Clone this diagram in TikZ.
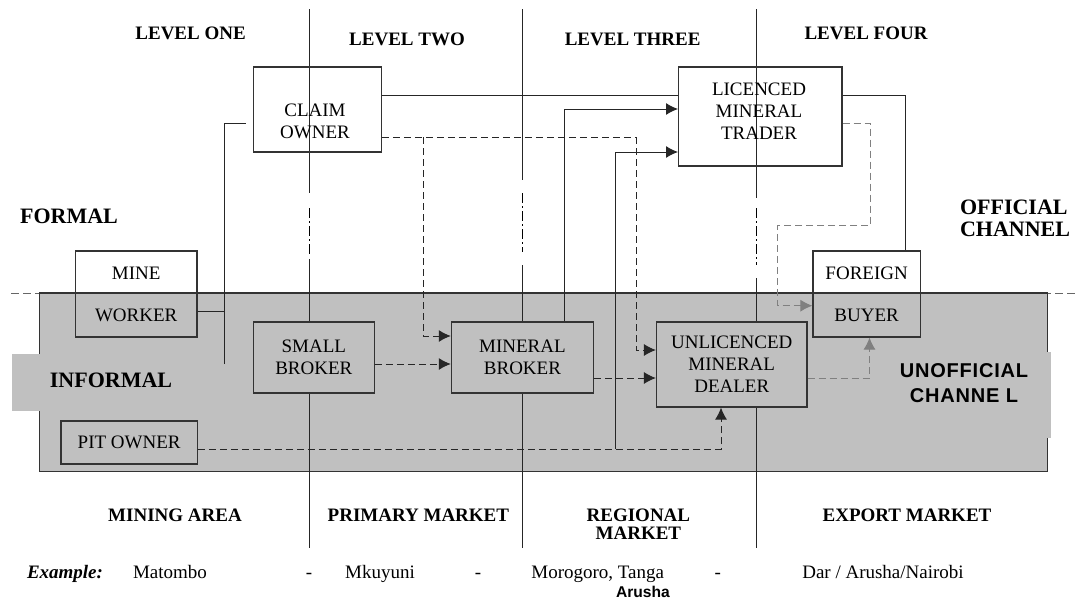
\documentclass[tikz,border=0pt]{standalone}
\usepackage{fontspec}
\setmainfont{Liberation Serif}
\setsansfont{Liberation Sans}
\newfontfamily\spacedsans[LetterSpace=4]{Liberation Sans}
\usetikzlibrary{arrows.meta}
\definecolor{bandgray}{RGB}{192,192,192}

\begin{document}
\begin{tikzpicture}[x=0.5pt,y=-0.5pt,
    every node/.style={inner sep=0pt,align=center,font=\fontsize{9.5}{11}\selectfont},
    box/.style={draw=black!80,line width=0.6pt},
    lowbox/.style={box,fill=bandgray},
    head/.style={font=\fontsize{9.5}{11}\selectfont\bfseries},
    side/.style={font=\fontsize{11}{11}\selectfont\bfseries,align=left},
    chan/.style={font=\spacedsans\bfseries\fontsize{10}{12.5}\selectfont},
    row/.style={anchor=base},
    link/.style={line width=0.5pt,black!85},
    dlink/.style={link,dash pattern=on 3.5pt off 2pt},
    glink/.style={dlink,black!50},
    level/.style={line width=0.5pt,black!85},
    levelgap/.style={line width=0.6pt,black,dash pattern=on 5pt off 1.5pt on 1pt off 1.5pt},
    >={Latex[length=6pt,width=6pt]}]
          \useasboundingbox (0,0) rectangle (1076,600);

          % formal / informal band
          \draw[black!60,line width=0.5pt,dash pattern=on 4pt off 2pt] (11.4,293) -- (1076,293);
          \draw[black!80,line width=0.6pt,fill=bandgray] (39.6,293) rectangle (1047.7,471.7);
          \fill[bandgray] (12.3,354) rectangle (200,410.7);
          \fill[bandgray] (890,352) rectangle (1051,437.7);

          % level lines
          \foreach \lx/\ya/\yb/\yc/\yd in {309.7/193/208/257/259, 522.7/180/193/252/265, 756.5/197.7/208/265/278}{
            \draw[level] (\lx,9.3) -- (\lx,\ya) (\lx,\yd) -- (\lx,548);
            \draw[levelgap] (\lx,\yb) -- (\lx,\yc);
          }

          % boxes
          \node[box,minimum width=63.9pt,minimum height=42.5pt] (claim) at (317.3,109.5) {};
          \node (claimtext) at (315,121.7) {CLAIM\\OWNER};
          \node[box,minimum width=81.7pt,minimum height=49.5pt] (lmt) at (760.3,116.5) {};
          \node (lmttext) at (759,111.7) {LICENCED\\MINERAL\\TRADER};
          \node[box,minimum width=60.8pt,minimum height=43pt] (mine) at (136.2,294) {MINE\\[10pt]WORKER};
          \node[box,minimum width=53.65pt,minimum height=43pt] (foreign) at (866.65,294) {FOREIGN\\[10pt]BUYER};
          \node[lowbox,minimum width=60.45pt,minimum height=35.5pt] (sbroker) at (313.85,357.5) {SMALL\\BROKER};
          \node[lowbox,minimum width=71.05pt,minimum height=35.5pt] (mbroker) at (522.45,357.5) {MINERAL\\BROKER};
          \node[lowbox,minimum width=75.25pt,minimum height=42.5pt] (unlic) at (731.75,364.5) {UNLICENCED\\MINERAL\\DEALER};
          \node[lowbox,minimum width=68.15pt,minimum height=21.5pt] (pit) at (129.15,442.5) {PIT OWNER};

          % routing points
          \coordinate (wj) at (224,311);
          \coordinate (wlow) at (224,364);
          \coordinate (wtop) at (245.5,123.3);
          \coordinate (t1) at (905,95);
          \coordinate (d1) at (423,137);
          \coordinate (d2) at (636,137);
          \coordinate (d3) at (423,336);
          \coordinate (d4) at (636,350);
          \coordinate (s1) at (0,364);
          \coordinate (m1) at (0,378);
          \coordinate (u1) at (869.5,378);
          \coordinate (a1) at (564.6,109);
          \coordinate (a2) at (615,152);
          \coordinate (p1) at (615,449);
          \coordinate (p2) at (721,449);
          \coordinate (g1) at (870,123);
          \coordinate (g2) at (870,225.7);
          \coordinate (g3) at (777.3,225.7);
          \coordinate (g4) at (777.3,305.7);

          % connectors
          \draw[link] (mine.east |- wj) -- (wj);
          \draw[link] (wlow) |- (wtop);
          \draw[link] (claim.east |- t1) -- (lmt.west |- t1);
          \draw[link] (lmt.east |- t1) -- (t1) -- (t1 |- foreign.north);
          \draw[dlink] (claim.east |- d1) -- (d2);
          \draw[dlink,->] (d1) -- (d3) -- (d3 -| mbroker.west);
          \draw[dlink,->] (d2) -- (d4) -- (d4 -| unlic.west);
          \draw[dlink,->] (sbroker.east |- s1) -- (mbroker.west |- s1);
          \draw[dlink,->] (mbroker.east |- m1) -- (unlic.west |- m1);
          \draw[glink,->] (unlic.east |- u1) -- (u1) -- (u1 |- foreign.south);
          \draw[link,->] (mbroker.north -| a1) -- (a1) -- (a1 -| lmt.west);
          \draw[dlink,->] (pit.east |- p1) -- (p2) -- (p2 |- unlic.south);
          \draw[link,->] (p1) -- (a2) -- (a2 -| lmt.west);
          \draw[glink,->] (lmt.east |- g1) -- (g1) -- (g2) -- (g3) -- (g4) -- (g4 -| foreign.west);

          % labels
          \node[head] (lvl1) at (190.6,33.3) {LEVEL ONE};
          \node[head] (lvl2) at (407,39) {LEVEL TWO};
          \node[head] (lvl3) at (632.6,39) {LEVEL THREE};
          \node[head] (lvl4) at (866,33.3) {LEVEL FOUR};
          \node[side] (formal) at (69,216) {FORMAL};
          \node[side,anchor=west] (official) at (959.6,218) {OFFICIAL\\CHANNEL};
          \node[side] (informal) at (111,380) {INFORMAL};
          \node[chan] (unofficial) at (964,383.5) {UNOFFICIAL\\CHANNE L};
          \node[head] (mining) at (175,515) {MINING AREA};
          \node[head] (primary) at (418.4,515) {PRIMARY MARKET};
          \node[head,font=\fontsize{9.5}{9.2}\selectfont\bfseries] (regional) at (638.4,524) {REGIONAL\\MARKET};
          \node[head] (export) at (907,515) {EXPORT MARKET};
          \node[row,font=\fontsize{9.5}{11}\selectfont\bfseries\itshape] (example) at (65,578) {Example:};
          \node[row] (ex1) at (170,578) {Matombo};
          \node[row] (sep1) at (309,578) {-};
          \node[row] (ex2) at (380,578) {Mkuyuni};
          \node[row] (sep2) at (478,578) {-};
          \node[row] (ex3) at (597.7,578) {Morogoro, Tanga};
          \node[font=\sffamily\bfseries\fontsize{7.8}{9}\selectfont] (ex3b) at (643,591.7) {Arusha};
          \node[row] (sep3) at (717.8,578) {-};
          \node[row] (ex4) at (883,578) {Dar / Arusha/Nairobi};
      \end{tikzpicture}
\end{document}
